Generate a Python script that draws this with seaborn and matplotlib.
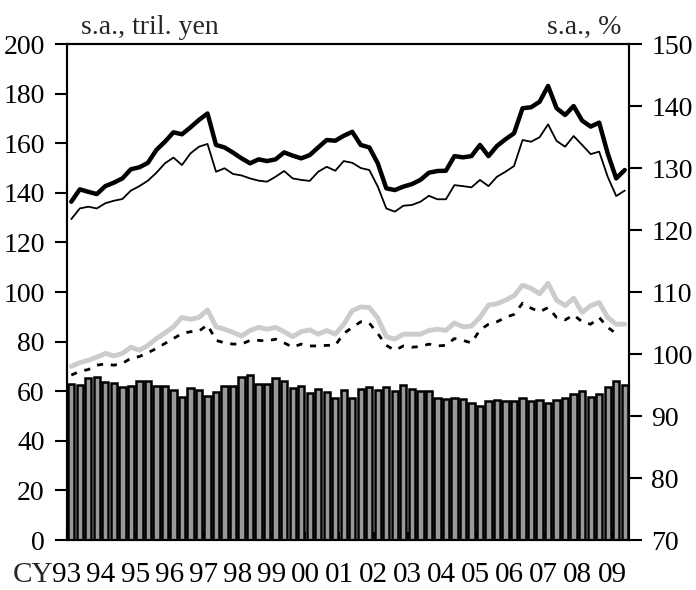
import numpy as np
import pandas as pd
import seaborn as sns
import matplotlib.pyplot as plt

# Quarterly data, 1993Q1 - 2009Q2
years = ["93", "94", "95", "96", "97", "98", "99", "00", "01",
         "02", "03", "04", "05", "06", "07", "08", "09"]

# bars, tril. yen (left axis)
bars = [62.9, 62.5, 65.2, 65.6, 63.6, 63.2, 61.8, 62.2, 64.2, 64.2, 62.2, 62.2,
        60.5, 57.8, 61.2, 60.5, 58.1, 59.5, 62.2, 62.2, 65.9, 66.5, 62.8, 62.8,
        65.2, 64.1, 61.4, 62.1, 59.1, 60.9, 59.5, 57.4, 60.5, 57.4, 60.9, 61.6,
        60.5, 61.8, 60.1, 62.5, 60.7, 60.1, 60.1, 57.4, 57.0, 57.4, 57.0, 55.4,
        54.0, 56.0, 56.5, 56.0, 56.0, 57.4, 56.0, 56.5, 55.4, 56.5, 57.1, 58.9,
        60.2, 57.8, 58.7, 61.8, 64.2, 62.5]

# thick black line, tril. yen (left axis)
thick = [136.4, 141.4, 140.4, 139.5, 142.7, 144.1, 145.8, 149.5, 150.3, 152.1,
         157.3, 160.6, 164.4, 163.6, 166.4, 169.4, 172.0, 159.3, 158.3, 156.2,
         153.9, 151.9, 153.5, 152.8, 153.5, 156.3, 155.0, 153.9, 155.2, 158.3,
         161.3, 161.0, 163.0, 164.6, 159.3, 158.3, 151.9, 141.8, 141.1, 142.5,
         143.5, 145.2, 148.1, 148.8, 148.9, 154.8, 154.3, 154.8, 159.3, 154.8,
         158.9, 161.6, 164.0, 174.1, 174.5, 176.7, 183.1, 174.1, 171.4, 175.0,
         169.1, 166.7, 168.3, 155.9, 145.8, 149.2]

# thin black line, tril. yen (left axis)
thin = [129.4, 133.7, 134.4, 133.7, 135.8, 136.8, 137.5, 140.9, 142.7, 144.9,
        148.1, 151.9, 154.2, 151.2, 155.9, 158.6, 159.7, 148.5, 149.9, 147.6,
        147.0, 145.8, 144.9, 144.5, 146.5, 148.8, 145.8, 145.2, 144.8, 148.5,
        150.5, 148.9, 152.8, 152.1, 150.0, 149.2, 142.5, 133.7, 132.4, 134.8,
        135.1, 136.4, 138.8, 137.4, 137.4, 143.1, 142.7, 142.2, 145.2, 142.7,
        146.5, 148.5, 150.8, 161.3, 160.6, 162.4, 167.6, 160.9, 158.6, 162.9,
        159.3, 155.6, 156.6, 146.5, 138.7, 140.9]

# gray line, % (right axis)
gray = [98.0, 98.6, 99.0, 99.5, 100.1, 99.7, 100.1, 101.1, 100.6, 101.4,
        102.5, 103.4, 104.4, 105.9, 105.6, 105.9, 107.1, 104.4, 104.0, 103.5,
        102.9, 103.8, 104.3, 104.0, 104.3, 103.6, 102.8, 103.6, 103.9, 103.2,
        103.8, 103.2, 104.8, 107.0, 107.6, 107.5, 105.8, 102.8, 102.4, 103.2,
        103.2, 103.2, 103.8, 104.0, 103.8, 105.0, 104.4, 104.5, 105.9, 107.9,
        108.1, 108.7, 109.4, 111.1, 110.6, 109.7, 111.4, 108.7, 107.8, 109.0,
        106.7, 107.8, 108.3, 105.9, 104.8, 104.8]

# dotted line, % (right axis), ends 2009Q1
dotted = [96.6, 97.2, 97.5, 98.2, 98.4, 98.2, 98.5, 99.3, 99.6, 100.2,
          100.9, 101.7, 102.5, 103.3, 103.6, 103.7, 104.7, 102.2, 101.8, 101.6,
          101.6, 102.2, 102.2, 102.1, 102.4, 101.8, 101.1, 101.6, 101.3, 101.3,
          101.4, 101.4, 103.3, 104.3, 105.2, 105.0, 103.3, 101.4, 100.6, 101.3,
          101.1, 101.2, 101.6, 101.3, 101.4, 102.5, 102.2, 101.8, 103.9, 104.8,
          105.2, 105.9, 106.4, 108.2, 107.4, 106.8, 107.5, 105.9, 105.5, 106.3,
          105.2, 104.8, 105.9, 104.3, 103.3, np.nan]

n = len(bars)
df = pd.DataFrame({"q": np.arange(n), "bars": bars, "thick": thick,
                   "thin": thin, "gray": gray, "dotted": dotted})

sns.set_style("ticks")
plt.rcParams["font.family"] = ["Liberation Serif", "DejaVu Serif"]
plt.rcParams["axes.linewidth"] = 1.5

fig = plt.figure(figsize=(6.96, 5.90), dpi=100)
ax = fig.add_axes([0.0963, 0.0847, 0.8074, 0.8407])

sns.barplot(data=df, x="q", y="bars", color="#999999", saturation=1,
            edgecolor="black", linewidth=1.8, width=0.74, ax=ax)
sns.lineplot(data=df, x="q", y="thin", color="black", linewidth=1.3, ax=ax)
sns.lineplot(data=df, x="q", y="thick", color="black", linewidth=3.2, ax=ax)

ax2 = ax.twinx()
sns.lineplot(data=df, x="q", y="gray", color="#cccccc", linewidth=3.5, ax=ax2)
sns.lineplot(data=df, x="q", y="dotted", color="black", linewidth=2.0,
             dashes=False, ax=ax2)
ax2.lines[-1].set_dashes((2.2, 2.8))

ax.set_xlim(-0.5, n - 0.5)
ax.set_ylim(0, 200)
ax.set_yticks(range(0, 201, 20))
ax2.set_ylim(70, 150)
ax2.set_yticks(range(70, 151, 10))

ax.set_xticks([4 * i - 0.5 for i in range(len(years))])
ax.set_xticklabels(years)
ax.tick_params(axis="x", direction="in", length=6, width=1.5, pad=16,
               labelsize=21, colors="black")
ax.tick_params(axis="y", direction="out", length=9, width=1.5, pad=7,
               labelsize=20, colors="black")
ax2.tick_params(axis="y", direction="out", length=9, width=1.5, pad=7,
                labelsize=20, colors="black")
ax.set_xlabel("")
ax.set_ylabel("")
ax2.set_ylabel("")
for a in (ax, ax2):
    for s in a.spines.values():
        s.set_visible(True)
        s.set_color("black")
        s.set_linewidth(1.5)

ax.annotate("CY", xy=(-0.5, 0), xycoords=("data", "axes fraction"),
            xytext=(-10, -16), textcoords="offset points",
            ha="right", va="top", fontsize=21)

fig.text(81 / 696, 1 - 34 / 590, "s.a., tril. yen", fontsize=20,
         ha="left", va="baseline")
fig.text(621 / 696, 1 - 34 / 590, "s.a., %", fontsize=20,
         ha="right", va="baseline")

fig.savefig("out.png", dpi=100)
